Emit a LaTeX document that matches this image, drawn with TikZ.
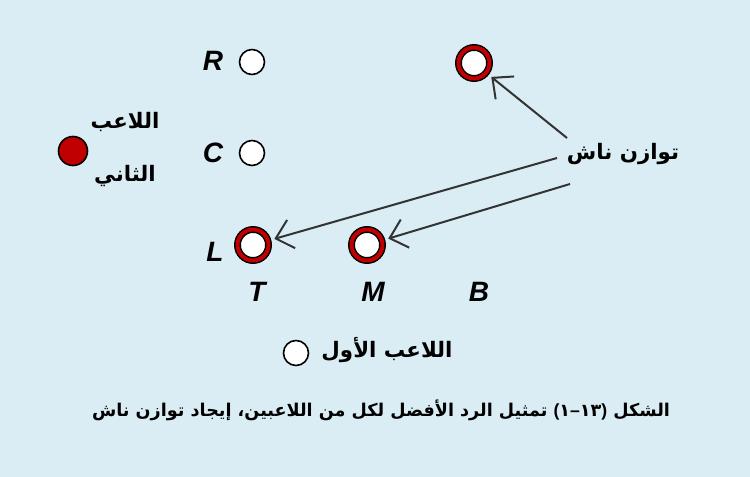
\documentclass[tikz,border=0pt]{standalone}
\usepackage{fontspec}
\setmainfont{Liberation Sans}
\newfontfamily\arabicfont[Script=Arabic]{DejaVu Sans}
\newfontfamily\latinfont{Liberation Sans}
\TeXXeTstate=1
\usetikzlibrary{arrows.meta}
\definecolor{bgblue}{RGB}{219,237,244}
\definecolor{ringred}{RGB}{192,0,0}
\definecolor{arrowgray}{RGB}{51,51,51}

\begin{document}
\begin{tikzpicture}[x=0.75pt,y=-0.75pt,
    dot/.style={circle, draw=black, line width=1.2pt, fill=white, minimum size=18.75pt, inner sep=0pt},
    ring/.style={circle, draw=black, line width=1.1pt, double=ringred, double distance=3pt, fill=white, minimum size=23.25pt, inner sep=0pt, outer sep=5pt},
    letter/.style={font=\fontsize{21}{21}\selectfont\bfseries\itshape},
    arabic/.style={font=\fontsize{16}{19}\selectfont\arabicfont\bfseries},
    nash/.style={draw=arrowgray, line width=1.5pt, -{Straight Barb[length=12pt,width=22pt]}}]
\fill[bgblue] (0,0) rectangle (750,477);
% player 2: rows
\node[dot] (rowR) at (252,62) {};
\node[letter] (labR) at (213,61) {R};
\node[dot] (rowC) at (252,153) {};
\node[letter] (labC) at (213,153) {C};
\node[letter] (labL) at (215,252) {L};
\node[circle, draw=black, line width=1.2pt, fill=ringred, minimum size=21.75pt, inner sep=0pt] (player2) at (73,151) {};
\node[arabic] (p2a) at (125,122) {\beginR اللاعب\endR};
\node[arabic] (p2b) at (125,176) {\beginR الثاني\endR};
% player 1: columns
\node[letter] (colT) at (257,292) {T};
\node[letter] (colM) at (373,292) {M};
\node[letter] (colB) at (479,292) {B};
\node[dot] (player1) at (296,353) {};
\node[arabic] (p1) at (387,350) {\beginR اللاعب الأول\endR};
% equilibria
\node[ring] (eqBR) at (474,63) {};
\node[ring] (eqTL) at (253,245) {};
\node[ring] (eqML) at (367,245) {};
\node[arabic] (nashtxt) at (623,154) {\beginR توازن ناش\endR};
\coordinate (from1) at (567,138);
\coordinate (from2) at (557,158);
\coordinate (from3) at (570,184);
\draw[nash] (from1) -- (eqBR);
\draw[nash] (from2) -- (eqTL);
\draw[nash] (from3) -- (eqML);
% caption
\node[arabic, font=\fontsize{13.2}{16}\selectfont\arabicfont\bfseries] (caption) at (381,410)
  {\beginR الشكل \beginL{\latinfont(}١{\latinfont–}١٣{\latinfont)}\endL{} تمثيل الرد الأفضل لكل من اللاعبين، إيجاد توازن ناش\endR};
\end{tikzpicture}
\end{document}
